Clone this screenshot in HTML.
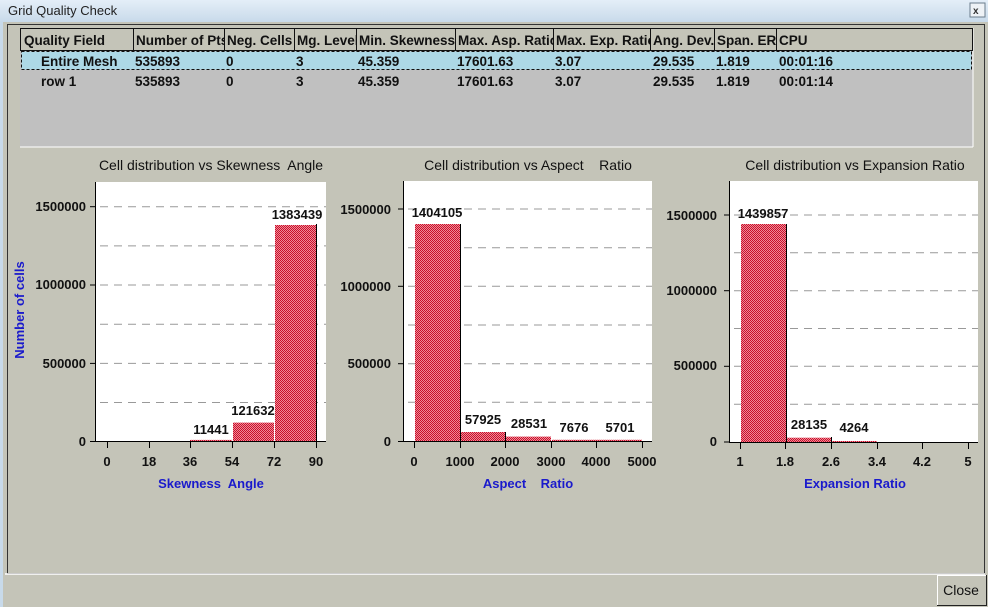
<!DOCTYPE html>
<html><head><meta charset="utf-8"><style>
html,body{margin:0;padding:0;background:#c4c4b8;}
svg{display:block;font-family:"Liberation Sans",Arial,sans-serif;}
text{white-space:pre;}
.t{font-size:13.5px;font-weight:bold;fill:#111;}
.v{font-size:13px;font-weight:bold;fill:#111;}
.ti{font-size:14px;fill:#111;}
.xl{font-size:13px;font-weight:bold;fill:#1a1acc;}
</style></head><body>
<svg width="988" height="607" viewBox="0 0 988 607" xmlns="http://www.w3.org/2000/svg" xml:space="preserve">
<defs>
<linearGradient id="tb" x1="0" y1="0" x2="0" y2="1"><stop offset="0" stop-color="#e4eef8"/><stop offset="1" stop-color="#c8daea"/></linearGradient>
<pattern id="hat" width="2" height="2" patternUnits="userSpaceOnUse"><rect width="2" height="2" fill="#f08a98"/><rect width="1" height="1" fill="#c8102a"/><rect x="1" y="1" width="1" height="1" fill="#c8102a"/></pattern>
</defs>
<rect width="988" height="607" fill="#c4c4b8"/>
<rect width="988" height="22" fill="url(#tb)"/>
<rect x="0" y="22" width="3" height="585" fill="#c8daea"/>
<text x="8" y="15" style="font-size:13px;fill:#222">Grid Quality Check</text>
<rect x="970" y="3" width="15" height="14" fill="#eef2f6" stroke="#6a7c8c"/>
<text x="973" y="14" style="font-size:10px;font-weight:bold;fill:#333">x</text>
<rect x="7.5" y="24.5" width="977" height="549" fill="none" stroke="#333"/>
<line x1="5" y1="574" x2="985" y2="574" stroke="#fff" stroke-width="1.5"/>
<rect x="20" y="28" width="953" height="119" fill="#c0c0c0"/>
<line x1="20" y1="147" x2="973" y2="147" stroke="#fff"/>
<line x1="973" y1="28" x2="973" y2="147" stroke="#fff"/>
<rect x="20.5" y="28.5" width="952" height="22" fill="#c4c4b8" stroke="#111"/>
<g stroke="#111">
<line x1="133.5" y1="28" x2="133.5" y2="50"/><line x1="224.5" y1="28" x2="224.5" y2="50"/>
<line x1="294.5" y1="28" x2="294.5" y2="50"/><line x1="356.5" y1="28" x2="356.5" y2="50"/>
<line x1="455.5" y1="28" x2="455.5" y2="50"/><line x1="553.5" y1="28" x2="553.5" y2="50"/>
<line x1="650.5" y1="28" x2="650.5" y2="50"/><line x1="714.5" y1="28" x2="714.5" y2="50"/>
<line x1="776.5" y1="28" x2="776.5" y2="50"/>
</g>
<rect x="21.5" y="51.5" width="950" height="18" fill="#add8e6" stroke="#111" stroke-dasharray="3,2"/>
<g class="t">
<svg x="21" y="29" width="112" height="21"><text x="3" y="16">Quality Field</text></svg>
<svg x="134" y="29" width="90" height="21"><text x="2" y="16">Number of Pts</text></svg>
<svg x="225" y="29" width="69" height="21"><text x="2" y="16">Neg. Cells</text></svg>
<svg x="295" y="29" width="61" height="21"><text x="2" y="16">Mg. Level</text></svg>
<svg x="357" y="29" width="98" height="21"><text x="2" y="16">Min. Skewness</text></svg>
<svg x="456" y="29" width="97" height="21"><text x="2" y="16">Max. Asp. Ratio</text></svg>
<svg x="554" y="29" width="96" height="21"><text x="2" y="16">Max. Exp. Ratio</text></svg>
<svg x="651" y="29" width="63" height="21"><text x="2" y="16">Ang. Dev.</text></svg>
<svg x="715" y="29" width="61" height="21"><text x="2" y="16">Span. ER</text></svg>
<text x="779" y="45">CPU</text>
<text x="41" y="66">Entire Mesh</text><text x="135" y="66">535893</text><text x="226" y="66">0</text><text x="296" y="66">3</text><text x="358" y="66">45.359</text><text x="457" y="66">17601.63</text><text x="555" y="66">3.07</text><text x="653" y="66">29.535</text><text x="716" y="66">1.819</text><text x="779" y="66">00:01:16</text>
<text x="41" y="86">row 1</text><text x="135" y="86">535893</text><text x="226" y="86">0</text><text x="296" y="86">3</text><text x="358" y="86">45.359</text><text x="457" y="86">17601.63</text><text x="555" y="86">3.07</text><text x="653" y="86">29.535</text><text x="716" y="86">1.819</text><text x="779" y="86">00:01:14</text>
</g>
<!-- Chart 1 -->
<text class="ti" x="211" y="170" text-anchor="middle">Cell distribution vs Skewness  Angle</text>
<rect x="95" y="182" width="231" height="259" fill="#fff"/>
<g stroke="#999" stroke-dasharray="8,6">
<line x1="100" y1="206.7" x2="326" y2="206.7"/><line x1="100" y1="245.9" x2="326" y2="245.9"/><line x1="100" y1="285" x2="326" y2="285"/><line x1="100" y1="324.2" x2="326" y2="324.2"/><line x1="100" y1="363.4" x2="326" y2="363.4"/><line x1="100" y1="402.5" x2="326" y2="402.5"/>
</g>
<rect x="190" y="439.9" width="42" height="1.8" fill="url(#hat)"/>
<rect x="233" y="422.6" width="41" height="19.1" fill="url(#hat)"/>
<rect x="275" y="225" width="41" height="216.7" fill="url(#hat)"/>
<line x1="316.5" y1="224" x2="316.5" y2="442" stroke="#000"/>
<g stroke="#000"><line x1="95.5" y1="182" x2="95.5" y2="442"/><line x1="95" y1="441.5" x2="326" y2="441.5"/>
<line x1="90" y1="206.7" x2="95" y2="206.7"/><line x1="90" y1="285" x2="95" y2="285"/><line x1="90" y1="363.4" x2="95" y2="363.4"/><line x1="90" y1="441.5" x2="95" y2="441.5"/>
<line x1="107.5" y1="441" x2="107.5" y2="448"/><line x1="149.5" y1="441" x2="149.5" y2="448"/><line x1="190.5" y1="441" x2="190.5" y2="448"/><line x1="232.5" y1="441" x2="232.5" y2="448"/><line x1="274.5" y1="441" x2="274.5" y2="448"/><line x1="316.5" y1="441" x2="316.5" y2="448"/></g>
<g class="v" text-anchor="end"><text x="86" y="211">1500000</text><text x="86" y="289">1000000</text><text x="86" y="368">500000</text><text x="86" y="446">0</text></g>
<g class="v" text-anchor="middle"><text x="107" y="466">0</text><text x="149" y="466">18</text><text x="190" y="466">36</text><text x="232" y="466">54</text><text x="274" y="466">72</text><text x="316" y="466">90</text>
<text x="211" y="434">11441</text><text x="253" y="415">121632</text><text x="297" y="219">1383439</text></g>
<text class="xl" x="211" y="488" text-anchor="middle">Skewness  Angle</text>
<text class="xl" x="0" y="0" text-anchor="middle" transform="translate(24,310) rotate(-90)">Number of cells</text>
<!-- Chart 2 -->
<text class="ti" x="528" y="170" text-anchor="middle">Cell distribution vs Aspect    Ratio</text>
<rect x="403" y="181" width="249" height="260" fill="#fff"/>
<g stroke="#999" stroke-dasharray="8,6">
<line x1="408" y1="209" x2="652" y2="209"/><line x1="408" y1="247.7" x2="652" y2="247.7"/><line x1="408" y1="286.3" x2="652" y2="286.3"/><line x1="408" y1="325" x2="652" y2="325"/><line x1="408" y1="363.7" x2="652" y2="363.7"/><line x1="408" y1="402.3" x2="652" y2="402.3"/>
</g>
<rect x="415" y="224" width="45" height="217" fill="url(#hat)"/>
<rect x="461" y="432" width="44" height="9" fill="url(#hat)"/>
<rect x="506" y="436.6" width="45" height="4.4" fill="url(#hat)"/>
<rect x="552" y="439.8" width="90" height="1.2" fill="url(#hat)"/>
<g stroke="#000"><line x1="460.5" y1="224" x2="460.5" y2="441"/><line x1="505.5" y1="432" x2="505.5" y2="441"/>
<line x1="403.5" y1="181" x2="403.5" y2="442"/><line x1="403" y1="441.5" x2="652" y2="441.5"/>
<line x1="398" y1="209" x2="403" y2="209"/><line x1="398" y1="286.3" x2="403" y2="286.3"/><line x1="398" y1="363.7" x2="403" y2="363.7"/><line x1="398" y1="441.5" x2="403" y2="441.5"/>
<line x1="414.5" y1="441" x2="414.5" y2="448"/><line x1="460.5" y1="441" x2="460.5" y2="448"/><line x1="505.5" y1="441" x2="505.5" y2="448"/><line x1="551.5" y1="441" x2="551.5" y2="448"/><line x1="596.5" y1="441" x2="596.5" y2="448"/><line x1="642.5" y1="441" x2="642.5" y2="448"/></g>
<g class="v" text-anchor="end"><text x="391" y="214">1500000</text><text x="391" y="291">1000000</text><text x="391" y="368">500000</text><text x="391" y="446">0</text></g>
<g class="v" text-anchor="middle"><text x="414" y="466">0</text><text x="460" y="466">1000</text><text x="505" y="466">2000</text><text x="551" y="466">3000</text><text x="596" y="466">4000</text><text x="642" y="466">5000</text>
<text x="437" y="217">1404105</text><text x="483" y="424">57925</text><text x="529" y="428">28531</text><text x="574" y="432">7676</text><text x="620" y="432">5701</text></g>
<text class="xl" x="528" y="488" text-anchor="middle">Aspect    Ratio</text>
<!-- Chart 3 -->
<text class="ti" x="855" y="170" text-anchor="middle">Cell distribution vs Expansion Ratio</text>
<rect x="729" y="181" width="249" height="261" fill="#fff"/>
<g stroke="#999" stroke-dasharray="8,6">
<line x1="734" y1="215" x2="978" y2="215"/><line x1="734" y1="252.8" x2="978" y2="252.8"/><line x1="734" y1="290.7" x2="978" y2="290.7"/><line x1="734" y1="328.5" x2="978" y2="328.5"/><line x1="734" y1="366.3" x2="978" y2="366.3"/><line x1="734" y1="404.2" x2="978" y2="404.2"/>
</g>
<rect x="741" y="224" width="45" height="218" fill="url(#hat)"/>
<rect x="786" y="437.7" width="45" height="4.3" fill="url(#hat)"/>
<rect x="832" y="441" width="45" height="1" fill="url(#hat)"/>
<g stroke="#000"><line x1="786.5" y1="224" x2="786.5" y2="442"/><line x1="831.5" y1="437" x2="831.5" y2="442"/>
<line x1="729.5" y1="181" x2="729.5" y2="443"/><line x1="729" y1="442.5" x2="978" y2="442.5"/>
<line x1="724" y1="215" x2="729" y2="215"/><line x1="724" y1="290.7" x2="729" y2="290.7"/><line x1="724" y1="366.3" x2="729" y2="366.3"/><line x1="724" y1="442" x2="729" y2="442"/>
<line x1="740.5" y1="442" x2="740.5" y2="449"/><line x1="785.5" y1="442" x2="785.5" y2="449"/><line x1="831.5" y1="442" x2="831.5" y2="449"/><line x1="877.5" y1="442" x2="877.5" y2="449"/><line x1="922.5" y1="442" x2="922.5" y2="449"/><line x1="968.5" y1="442" x2="968.5" y2="449"/></g>
<g class="v" text-anchor="end"><text x="717" y="220">1500000</text><text x="717" y="295">1000000</text><text x="717" y="370">500000</text><text x="717" y="446">0</text></g>
<g class="v" text-anchor="middle"><text x="740" y="466">1</text><text x="785" y="466">1.8</text><text x="831" y="466">2.6</text><text x="877" y="466">3.4</text><text x="922" y="466">4.2</text><text x="968" y="466">5</text>
<text x="763" y="218">1439857</text><text x="809" y="429">28135</text><text x="854" y="432">4264</text></g>
<text class="xl" x="855" y="488" text-anchor="middle">Expansion Ratio</text>
<rect x="937" y="575" width="49" height="31" fill="#c4c4b8"/>
<line x1="937" y1="575.5" x2="986" y2="575.5" stroke="#fff"/><line x1="937.5" y1="575" x2="937.5" y2="606" stroke="#fff"/>
<line x1="937" y1="605.5" x2="987" y2="605.5" stroke="#222"/><line x1="986.5" y1="575" x2="986.5" y2="606" stroke="#222"/>
<text x="961" y="595" text-anchor="middle" style="font-size:14px;fill:#111">Close</text>
</svg>
</body></html>
